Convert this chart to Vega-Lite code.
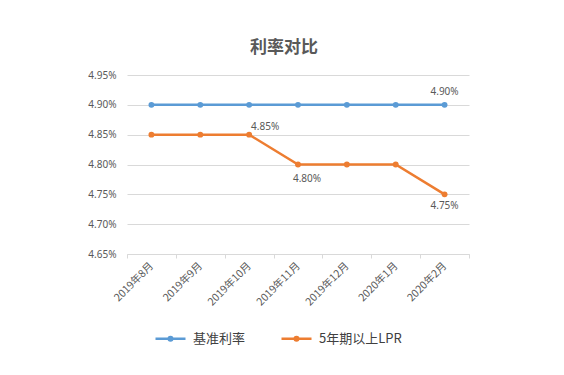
{
  "$schema": "https://vega.github.io/schema/vega-lite/v6.json",
  "autosize": "none",
  "width": 342,
  "height": 179,
  "padding": {"left": 127, "top": 75, "right": 95, "bottom": 121},
  "background": "white",
  "title": {
    "text": "利率对比",
    "fontSize": 17,
    "font": "Noto Sans CJK SC",
    "fontWeight": "bold",
    "color": "#595959",
    "anchor": "middle",
    "offset": 13,
    "dx": -14
  },
  "data": {
    "values": [
      {"month": "2019年8月", "series": "基准利率", "rate": 0.049},
      {"month": "2019年9月", "series": "基准利率", "rate": 0.049},
      {"month": "2019年10月", "series": "基准利率", "rate": 0.049},
      {"month": "2019年11月", "series": "基准利率", "rate": 0.049},
      {"month": "2019年12月", "series": "基准利率", "rate": 0.049},
      {"month": "2020年1月", "series": "基准利率", "rate": 0.049},
      {"month": "2020年2月", "series": "基准利率", "rate": 0.049},
      {"month": "2019年8月", "series": "5年期以上LPR", "rate": 0.0485},
      {"month": "2019年9月", "series": "5年期以上LPR", "rate": 0.0485},
      {"month": "2019年10月", "series": "5年期以上LPR", "rate": 0.0485},
      {"month": "2019年11月", "series": "5年期以上LPR", "rate": 0.048},
      {"month": "2019年12月", "series": "5年期以上LPR", "rate": 0.048},
      {"month": "2020年1月", "series": "5年期以上LPR", "rate": 0.048},
      {"month": "2020年2月", "series": "5年期以上LPR", "rate": 0.0475}
    ]
  },
  "encoding": {
    "x": {
      "field": "month",
      "type": "ordinal",
      "sort": null,
      "scale": {"type": "band", "paddingInner": 0, "paddingOuter": 0},
      "axis": {
        "title": null,
        "labelAngle": -45,
        "labelAlign": "right",
        "labelBaseline": "middle",
        "labelFontSize": 10.5,
        "labelColor": "#595959",
        "labelFont": "Noto Sans CJK SC",
        "labelPadding": 6,
        "domainColor": "#d9d9d9",
        "tickColor": "#d9d9d9",
        "tickSize": 4,
        "tickBand": "extent",
        "grid": false
      }
    },
    "y": {
      "field": "rate",
      "type": "quantitative",
      "scale": {"domain": [0.0465, 0.0495], "nice": false, "zero": false},
      "axis": {
        "title": null,
        "format": ".2%",
        "values": [0.0465, 0.047, 0.0475, 0.048, 0.0485, 0.049, 0.0495],
        "labelFontSize": 10,
        "labelColor": "#595959",
        "labelFont": "Noto Sans",
        "labelPadding": 11,
        "domain": false,
        "ticks": false,
        "gridColor": "#d9d9d9",
        "gridWidth": 1
      }
    }
  },
  "layer": [
    {
      "mark": {"type": "line", "strokeWidth": 2.5, "point": {"size": 35, "filled": true, "opacity": 1}},
      "encoding": {
        "color": {
          "field": "series",
          "type": "nominal",
          "sort": ["基准利率", "5年期以上LPR"],
          "scale": {"domain": ["基准利率", "5年期以上LPR"], "range": ["#5B9BD5", "#ED7D31"]},
          "legend": {
            "title": null,
            "orient": "none",
            "direction": "horizontal",
            "legendX": 27,
            "legendY": 247,
            "symbolType": "M-1,0H1M-0.12,0a0.12,0.12 0 1,0 0.24,0a0.12,0.12 0 1,0 -0.24,0",
            "symbolSize": 900,
            "symbolStrokeWidth": 2.5,
            "labelFontSize": 13,
            "labelColor": "#404040",
            "labelFont": "Noto Sans CJK SC",
            "columnPadding": 30,
            "labelOffset": 6
          }
        }
      }
    },
    {
      "transform": [{"filter": "datum.series == '基准利率' && datum.month == '2020年2月'"}],
      "mark": {"type": "text", "dy": -13, "fontSize": 10, "color": "#595959", "font": "Noto Sans"},
      "encoding": {"text": {"field": "rate", "type": "quantitative", "format": ".2%"}}
    },
    {
      "transform": [{"filter": "datum.series == '5年期以上LPR' && datum.month == '2019年10月'"}],
      "mark": {"type": "text", "dx": 16, "dy": -8, "fontSize": 10, "color": "#595959", "font": "Noto Sans"},
      "encoding": {"text": {"field": "rate", "type": "quantitative", "format": ".2%"}}
    },
    {
      "transform": [{"filter": "datum.series == '5年期以上LPR' && datum.month == '2019年11月'"}],
      "mark": {"type": "text", "dx": 9, "dy": 14, "fontSize": 10, "color": "#595959", "font": "Noto Sans"},
      "encoding": {"text": {"field": "rate", "type": "quantitative", "format": ".2%"}}
    },
    {
      "transform": [{"filter": "datum.series == '5年期以上LPR' && datum.month == '2020年2月'"}],
      "mark": {"type": "text", "dy": 12, "fontSize": 10, "color": "#595959", "font": "Noto Sans"},
      "encoding": {"text": {"field": "rate", "type": "quantitative", "format": ".2%"}}
    }
  ],
  "config": {"view": {"stroke": null}}
}
